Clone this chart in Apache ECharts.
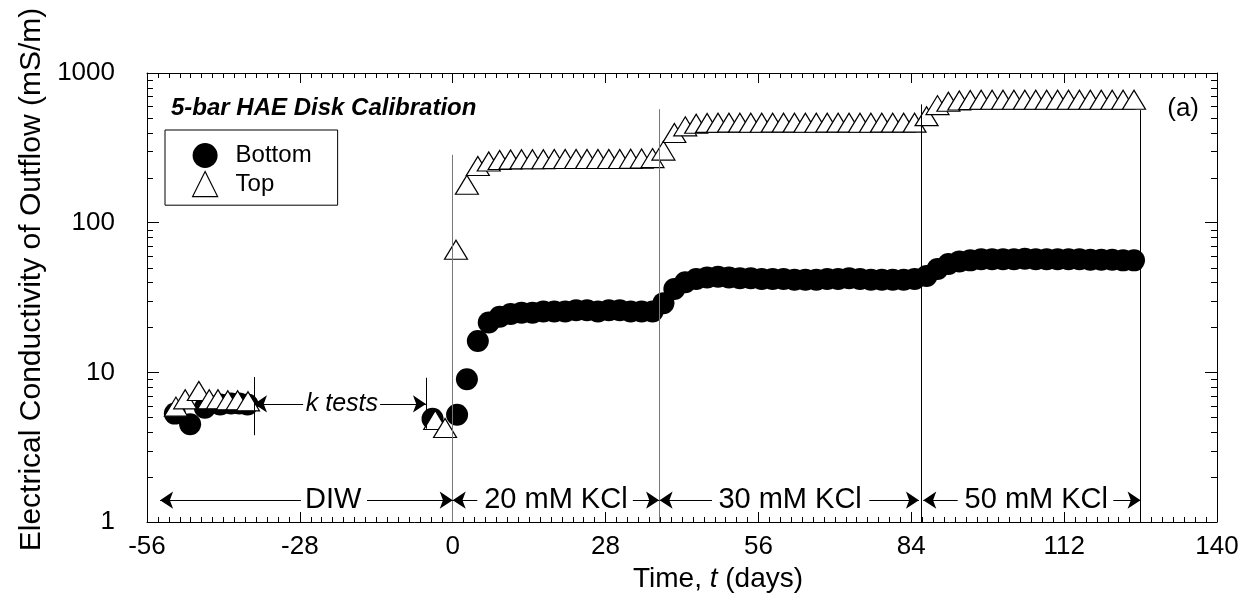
<!DOCTYPE html>
<html><head><meta charset="utf-8">
<script src="https://cdn.jsdelivr.net/npm/echarts/dist/echarts.min.js"></script>
<style>html,body{margin:0;padding:0;background:#fff}#c{width:1252px;height:598px}</style>
</head><body><div id="c"></div>
<script>
const FONT = '"Liberation Sans", Arial, Helvetica, sans-serif';

// ---- axis ticks ----
const xTickLabels = [-56, -28, 0, 28, 56, 84, 112, 140];
const yTickLabels = [1, 10, 100, 1000];
const yMinorTicks = [2,3,4,5,6,7,8,9,20,30,40,50,60,70,80,90,200,300,400,500,600,700,800,900];

// ---- Bottom (filled circles) ----
const bottomDays = [-50.9,-48.1,-45.4,-42.6,-40.6,-39.1,-37.6,
  -3.7,0.8,
  2.6,4.6,6.6,8.6,10.6,12.6,14.6,16.6,18.6,20.6,22.6,24.6,26.6,28.6,30.6,32.6,34.6,36.6,
  38.6,40.6,42.6,44.6,46.6,48.6,50.6,52.6,54.6,56.6,58.6,60.6,62.6,64.6,66.6,68.6,70.6,72.6,74.6,76.6,78.6,80.6,82.6,84.6,
  86.8,88.8,90.8,92.8,94.8,96.8,98.8,100.8,102.8,104.8,106.8,108.8,110.8,112.8,114.8,116.8,118.8,120.8,122.8,124.8];
const bottomEC = [5.3,4.5,5.8,6.1,6.2,6.2,6.1,
  4.9,5.2,
  9.0,16.2,21.5,23.5,24.5,25.0,25.0,25.5,25.5,25.5,26.0,26.0,25.5,26.0,26.0,25.5,25.5,25.5,
  29.0,36.0,40.0,42.0,43.0,43.5,43.0,42.5,42.5,42.0,42.0,42.0,41.5,41.5,41.5,42.0,42.0,42.5,42.0,41.5,41.5,41.5,41.5,42.0,
  44.0,49.0,53.0,55.0,56.0,57.0,57.0,57.0,57.0,57.5,57.0,57.0,57.0,57.0,57.0,56.5,56.5,56.5,56.0,56.0];

// ---- Top (open triangles) ----
const topDays = [-50.7,-49.0,-46.5,-44.6,-43.0,-41.2,-39.4,-37.5,
  -3.2,-1.4,0.6,
  2.6,4.6,6.6,8.6,10.6,12.6,14.6,16.6,18.6,20.6,22.6,24.6,26.6,28.6,30.6,32.6,34.6,36.6,
  38.6,40.6,42.6,44.6,46.6,48.6,50.6,52.6,54.6,56.6,58.6,60.6,62.6,64.6,66.6,68.6,70.6,72.6,74.6,76.6,78.6,80.6,82.6,84.6,
  86.8,88.8,90.8,92.8,94.8,96.8,98.8,100.8,102.8,104.8,106.8,108.8,110.8,112.8,114.8,116.8,118.8,120.8,122.8,124.8];
const topEC = [5.9,6.6,7.5,6.6,6.6,6.5,6.5,6.4,
  4.8,4.25,66,
  179,239,256,262,264,265,265,265,266,266,266,266,266,266,266,267,268,270,
  303,397,440,458,464,465,466,466,465,465,466,466,466,465,465,466,466,466,465,465,466,466,466,466,
  515,610,642,655,660,662,662,662,662,662,662,662,662,662,662,662,662,662,662,662];

// ---- annotations (data units) ----
const stageBoundaryDays = [0, 37.8, 85.8, 126];
const stageBoundaryTopEC = [284, 573, 617, 565];
const stageBoundaryColors = ['#777', '#777', '#000', '#000'];
const kTestBoundaryDays = [-36.4, -4.9];
const kTestBoundaryLowEC = [3.8, 4.2];
const kTestBoundaryHighEC = [9.3, 9.2];
const stageLabels = ['DIW', '20 mM KCl', '30 mM KCl', '50 mM KCl'];
const stageArrowStart = [-53.6, 0, 37.9, 86.2];
const stageTextLeft = [-27.8, 4.5, 47.5, 92.5];
const stageTextCenter = [-21.9, 18.9, 61.8, 106.9];
const stageTextRight = [-15.7, 33.0, 76.3, 121.0];
const stageArrowEnd = [0, 37.8, 85.4, 126];
const stageRowEC = 1.40;
const kTestLabel = 'k tests';
const kTestArrow = [-36.4, -27.4, -20.3, -13.3, -4.9]; // start, textLeft, center, textRight, end
const kTestRowEC = 6.15;

const chart = echarts.init(document.getElementById('c'), null, {renderer: 'canvas'});

const boundaryLines = stageBoundaryDays.map((d, i) => ({
  coords: [[d, 1], [d, stageBoundaryTopEC[i]]],
  lineStyle: {color: stageBoundaryColors[i]}
})).concat(kTestBoundaryDays.map((d, i) => ({
  coords: [[d, kTestBoundaryLowEC[i]], [d, kTestBoundaryHighEC[i]]],
  lineStyle: {color: '#000'}
})));

const arrowLines = [];
stageLabels.forEach((s, i) => {
  arrowLines.push({coords: [[stageTextLeft[i], stageRowEC], [stageArrowStart[i], stageRowEC]]});
  arrowLines.push({coords: [[stageTextRight[i], stageRowEC], [stageArrowEnd[i], stageRowEC]]});
});
arrowLines.push({coords: [[kTestArrow[1], kTestRowEC], [kTestArrow[0], kTestRowEC]]});
arrowLines.push({coords: [[kTestArrow[3], kTestRowEC], [kTestArrow[4], kTestRowEC]]});

const textItems = stageLabels.map((s, i) => ({
  value: [stageTextCenter[i], stageRowEC],
  label: {formatter: s, fontSize: 29}
}));
textItems.push({value: [kTestArrow[2], kTestRowEC], label: {formatter: kTestLabel, fontSize: 25, fontStyle: 'italic'}});

const axisLineStyle = {show: true, onZero: false, lineStyle: {color: '#000', width: 1}};

const option = {
  animation: false,
  backgroundColor: '#fff',
  textStyle: {fontFamily: FONT, color: '#000'},
  title: [
    {text: '5-bar HAE Disk Calibration', left: 166, top: 91,
     textStyle: {fontFamily: FONT, fontSize: 24, fontWeight: 'bold', fontStyle: 'italic', color: '#000'}},
    {text: '(a)', right: 48, top: 91,
     textStyle: {fontFamily: FONT, fontSize: 26, fontWeight: 'normal', color: '#000'}}
  ],
  legend: {
    orient: 'vertical', left: 165, top: 130,
    data: [{name: 'Bottom'}, {name: 'Top', itemStyle: {color: '#fff', borderColor: '#000', borderWidth: 1.2}}],
    selectedMode: false,
    borderColor: '#000', borderWidth: 1, borderRadius: 0,
    padding: [13, 26, 8, 27],
    itemWidth: 25, itemHeight: 25, itemGap: 3,
    textStyle: {fontFamily: FONT, fontSize: 24, color: '#000', padding: [0, 0, 0, 13]}
  },
  grid: {left: 147, right: 35, top: 73, bottom: 76, containLabel: false, outerBoundsMode: 'none'},
  xAxis: [{
    type: 'value', min: xTickLabels[0], max: xTickLabels[xTickLabels.length - 1], interval: 28,
    position: 'bottom',
    axisLine: axisLineStyle,
    axisTick: {show: true, inside: true, length: 10, lineStyle: {color: '#000'}},
    minorTick: {show: true, splitNumber: 14, length: 5, lineStyle: {color: '#000'}},
    splitLine: {show: false}, minorSplitLine: {show: false},
    axisLabel: {fontFamily: FONT, fontSize: 26, color: '#000', margin: 12},
    name: 'Time, {i|t} (days)', nameLocation: 'middle', nameGap: 40,
    nameTextStyle: {fontFamily: FONT, fontSize: 28, color: '#000', padding: [0, 0, 0, 72],
      rich: {i: {fontFamily: FONT, fontSize: 28, fontStyle: 'italic', color: '#000'}}}
  }, {
    type: 'value', min: xTickLabels[0], max: xTickLabels[xTickLabels.length - 1], interval: 28,
    position: 'top',
    axisLine: axisLineStyle,
    axisTick: {show: true, inside: true, length: 10, lineStyle: {color: '#000'}},
    minorTick: {show: true, splitNumber: 14, length: 5, lineStyle: {color: '#000'}},
    splitLine: {show: false}, axisLabel: {show: false}
  }],
  yAxis: [{
    type: 'log', logBase: 10, min: yTickLabels[0], max: yTickLabels[yTickLabels.length - 1],
    position: 'left',
    axisLine: axisLineStyle,
    axisTick: {show: true, inside: true, length: 12, lineStyle: {color: '#000'}},
    minorTick: {show: false},
    splitLine: {show: false},
    axisLabel: {fontFamily: FONT, fontSize: 26, color: '#000', margin: 32,
      formatter: v => { const r = Math.round(v); return yTickLabels.includes(r) ? String(r) : ''; }},
    name: 'Electrical Conductivity of Outflow (mS/m)', nameLocation: 'middle', nameGap: 100,
    nameTextStyle: {fontFamily: FONT, fontSize: 30, color: '#000', padding: [0, 0, 0, 36]}
  }, {
    type: 'log', logBase: 10, min: yTickLabels[0], max: yTickLabels[yTickLabels.length - 1],
    position: 'right',
    axisLine: axisLineStyle,
    axisTick: {show: true, inside: true, length: 12, lineStyle: {color: '#000'}},
    minorTick: {show: false}, splitLine: {show: false}, axisLabel: {show: false}
  }],
  series: [
    {
      name: 'Bottom', type: 'scatter', xAxisIndex: 0, yAxisIndex: 0,
      symbol: 'circle', symbolSize: 22,
      itemStyle: {color: '#000', opacity: 1},
      data: bottomDays.map((d, i) => [d, bottomEC[i]]), z: 3
    },
    {
      name: 'Top', type: 'scatter', xAxisIndex: 0, yAxisIndex: 0,
      symbol: 'triangle', symbolSize: [23, 19],
      itemStyle: {color: '#fff', borderColor: '#000', borderWidth: 1.2, opacity: 1},
      data: topDays.map((d, i) => [d, topEC[i]]), z: 4
    },
    {
      type: 'custom', coordinateSystem: 'cartesian2d', xAxisIndex: 0, yAxisIndex: 0,
      silent: true, z: 8, clip: false,
      data: yMinorTicks.map(v => [xTickLabels[0], v]),
      renderItem: (params, api) => {
        const cs = params.coordSys;
        const y = Math.round(api.coord([xTickLabels[0], api.value(1)])[1]) + 0.5;
        return {type: 'group', children: [
          {type: 'line', shape: {x1: cs.x, y1: y, x2: cs.x + 6, y2: y}, style: {stroke: '#000', lineWidth: 1}},
          {type: 'line', shape: {x1: cs.x + cs.width - 6, y1: y, x2: cs.x + cs.width, y2: y}, style: {stroke: '#000', lineWidth: 1}}
        ]};
      }
    },
    {
      type: 'lines', coordinateSystem: 'cartesian2d', xAxisIndex: 0, yAxisIndex: 0,
      silent: true, z: 6, symbol: ['none', 'none'],
      lineStyle: {color: '#000', width: 1, opacity: 1, curveness: 0},
      data: boundaryLines
    },
    {
      type: 'lines', coordinateSystem: 'cartesian2d', xAxisIndex: 0, yAxisIndex: 0,
      silent: true, z: 6, symbol: ['none', 'arrow'], symbolSize: 13,
      lineStyle: {color: '#000', width: 1, opacity: 1, curveness: 0},
      itemStyle: {color: '#000'},
      data: arrowLines
    },
    {
      type: 'scatter', xAxisIndex: 0, yAxisIndex: 0, silent: true, z: 7,
      symbolSize: 1, itemStyle: {color: '#fff', opacity: 1},
      label: {show: true, position: 'inside', color: '#000', opacity: 1, textBorderWidth: 0, fontFamily: FONT},
      data: textItems
    }
  ]
};
chart.setOption(option);
</script>
</body></html>
